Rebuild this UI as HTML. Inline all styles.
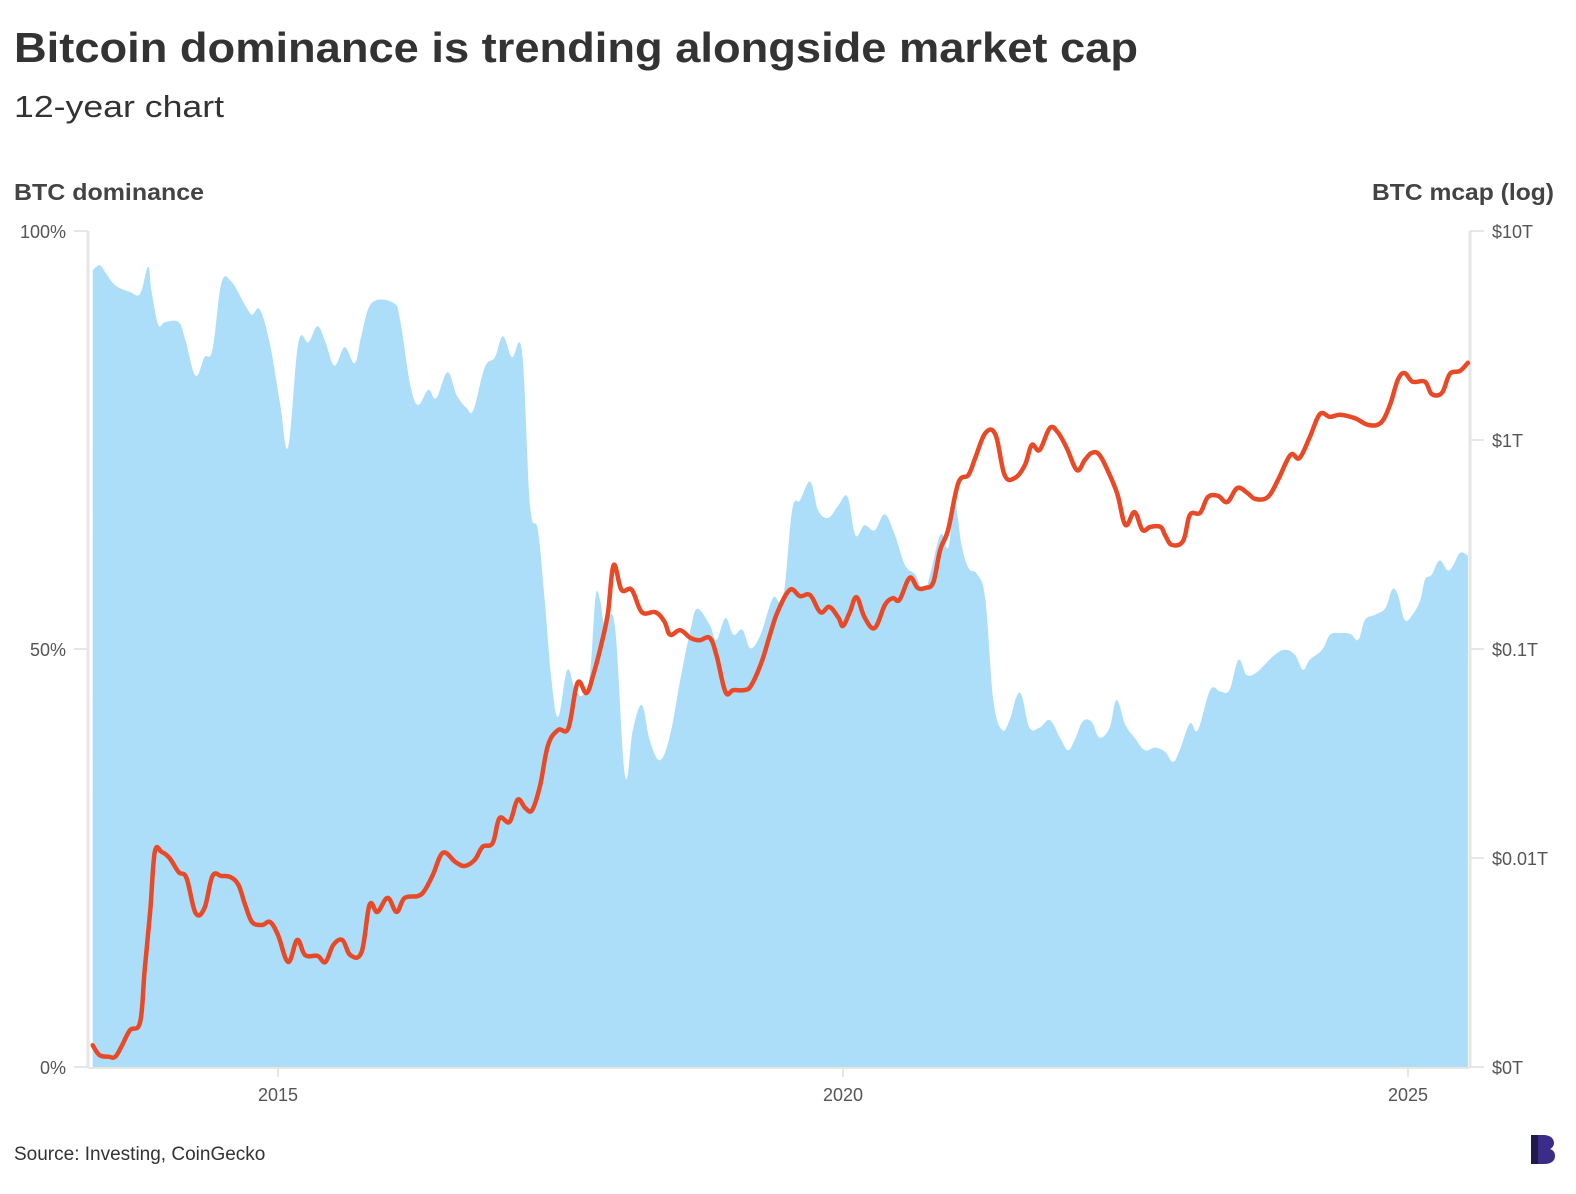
<!DOCTYPE html>
<html><head><meta charset="utf-8">
<style>
html,body{margin:0;padding:0;background:#fff;}
svg{display:block;font-family:"Liberation Sans",sans-serif;}
</style></head>
<body>
<svg id="chart" width="1576" height="1194" viewBox="0 0 1576 1194" xmlns="http://www.w3.org/2000/svg">
<text x="14" y="62" font-size="42" font-weight="bold" fill="#333" textLength="1124" lengthAdjust="spacingAndGlyphs">Bitcoin dominance is trending alongside market cap</text>
<text x="14" y="117" font-size="31" fill="#333" textLength="210" lengthAdjust="spacingAndGlyphs">12-year chart</text>
<text x="14" y="200" font-size="23" font-weight="bold" fill="#444" textLength="190" lengthAdjust="spacingAndGlyphs">BTC dominance</text>
<text x="1554" y="200" font-size="23" font-weight="bold" fill="#444" text-anchor="end" textLength="182" lengthAdjust="spacingAndGlyphs">BTC mcap (log)</text>
<g id="plot"></g>
<text x="14" y="1160" font-size="19" fill="#333">Source: Investing, CoinGecko</text>
<g>
<path d="M1531 1135 h12 c9 0 11 5 11 8 c0 3 -2 5 -4 6 c3 1 5 3 5 7 c0 5 -4 8 -11 8 h-13 z" fill="#3b2c8a"/>
<path d="M1531 1135 h7 v29 h-7 z" fill="#1e1a4a"/>
</g>
</svg>
<script>
const domDates=[2013.36,2013.42,2013.47,2013.56,2013.69,2013.78,2013.85,2013.88,2013.94,2014.00,2014.12,2014.18,2014.27,2014.35,2014.42,2014.50,2014.59,2014.71,2014.77,2014.84,2014.93,2015.02,2015.09,2015.18,2015.27,2015.35,2015.42,2015.50,2015.59,2015.68,2015.74,2015.83,2016.02,2016.08,2016.17,2016.24,2016.33,2016.40,2016.50,2016.58,2016.67,2016.73,2016.83,2016.92,2016.99,2017.07,2017.16,2017.23,2017.30,2017.36,2017.42,2017.48,2017.56,2017.63,2017.70,2017.76,2017.81,2017.85,2017.89,2017.98,2018.07,2018.14,2018.22,2018.29,2018.38,2018.47,2018.56,2018.65,2018.71,2018.82,2018.88,2018.96,2019.03,2019.11,2019.18,2019.27,2019.38,2019.47,2019.55,2019.62,2019.71,2019.78,2019.87,2019.96,2020.04,2020.11,2020.19,2020.28,2020.37,2020.46,2020.55,2020.64,2020.73,2020.86,2020.93,2020.99,2021.05,2021.11,2021.19,2021.26,2021.33,2021.41,2021.48,2021.53,2021.58,2021.65,2021.74,2021.83,2021.92,2021.99,2022.05,2022.12,2022.20,2022.27,2022.36,2022.42,2022.50,2022.58,2022.67,2022.76,2022.85,2022.92,2022.98,2023.07,2023.14,2023.25,2023.34,2023.42,2023.50,2023.57,2023.65,2023.73,2023.82,2023.91,2024.00,2024.07,2024.13,2024.24,2024.31,2024.40,2024.49,2024.56,2024.62,2024.71,2024.80,2024.86,2024.91,2024.97,2025.04,2025.11,2025.15,2025.21,2025.28,2025.35,2025.40,2025.46,2025.53];
const domValues=[95.3,95.9,95.1,93.5,92.7,92.5,95.7,92.9,88.8,89.1,89.1,87.0,82.7,84.9,85.8,93.8,93.9,91.1,90.0,90.6,86.4,79.2,74.2,86.6,86.7,88.6,86.7,83.9,86.1,84.2,87.6,91.4,91.4,89.4,81.6,79.2,81.0,80.0,83.1,80.4,78.8,78.6,83.7,84.9,87.4,84.9,85.5,67.2,64.2,55.9,46.3,41.9,47.5,45.1,44.5,46.9,56.2,55.9,52.9,52.9,34.9,40.3,43.3,39.1,36.7,39.7,46.3,52.3,54.8,52.9,51.1,53.7,51.7,52.3,50.1,51.7,56.1,56.1,66.6,67.8,70.0,66.6,65.7,67.2,68.2,63.6,64.8,64.2,66.1,63.6,60.0,58.9,57.1,63.6,62.1,67.2,62.4,59.7,58.9,55.9,43.9,40.3,41.7,44.1,44.5,40.6,40.6,41.5,39.4,37.9,39.1,41.3,41.3,39.4,40.6,43.9,40.9,39.4,37.9,38.2,37.7,36.5,37.9,41.1,40.3,45.1,44.9,45.1,48.7,46.9,47.1,48.1,49.3,49.9,49.3,47.5,48.7,49.9,51.7,51.9,51.8,51.1,53.5,54.1,54.9,57.1,56.5,53.5,54.1,55.9,58.3,58.9,60.6,59.4,60.0,61.5,61.2];
const capDates=[2013.36,2013.42,2013.50,2013.56,2013.62,2013.69,2013.78,2013.82,2013.87,2013.91,2013.97,2014.04,2014.12,2014.19,2014.27,2014.35,2014.42,2014.50,2014.58,2014.65,2014.71,2014.77,2014.86,2014.93,2015.00,2015.09,2015.17,2015.24,2015.35,2015.42,2015.49,2015.57,2015.64,2015.74,2015.81,2015.88,2015.97,2016.05,2016.12,2016.24,2016.30,2016.37,2016.46,2016.57,2016.65,2016.74,2016.81,2016.90,2016.96,2017.05,2017.12,2017.19,2017.25,2017.32,2017.39,2017.48,2017.57,2017.65,2017.73,2017.79,2017.87,2017.92,2017.97,2018.04,2018.13,2018.22,2018.34,2018.42,2018.47,2018.56,2018.65,2018.73,2018.82,2018.88,2018.96,2019.03,2019.13,2019.19,2019.28,2019.35,2019.42,2019.53,2019.62,2019.71,2019.80,2019.88,2019.96,2020.00,2020.06,2020.12,2020.19,2020.28,2020.37,2020.44,2020.50,2020.59,2020.66,2020.73,2020.80,2020.86,2020.93,2021.02,2021.11,2021.17,2021.26,2021.35,2021.43,2021.52,2021.61,2021.67,2021.74,2021.83,2021.90,2021.98,2022.07,2022.14,2022.20,2022.27,2022.36,2022.43,2022.50,2022.58,2022.65,2022.72,2022.81,2022.85,2022.91,2023.01,2023.07,2023.16,2023.23,2023.32,2023.40,2023.49,2023.58,2023.65,2023.76,2023.85,2023.96,2024.04,2024.13,2024.22,2024.31,2024.40,2024.53,2024.65,2024.76,2024.84,2024.91,2024.97,2025.04,2025.15,2025.21,2025.30,2025.37,2025.46,2025.53];
const capValues=[0.00127,0.00114,0.00112,0.00112,0.00127,0.00150,0.00164,0.00291,0.00564,0.0107,0.0107,0.0100,0.00857,0.00802,0.00546,0.00577,0.00820,0.00820,0.00810,0.00743,0.00596,0.00494,0.00478,0.00494,0.00428,0.00318,0.00405,0.00343,0.00340,0.00318,0.00384,0.00405,0.00343,0.00355,0.00596,0.00552,0.00644,0.00552,0.00644,0.00658,0.00703,0.00829,0.0106,0.00957,0.00916,0.00978,0.0113,0.0118,0.0155,0.0149,0.0190,0.0173,0.0170,0.0223,0.0347,0.0410,0.0419,0.0688,0.0616,0.0751,0.110,0.149,0.252,0.192,0.192,0.150,0.150,0.135,0.117,0.123,0.113,0.110,0.113,0.0936,0.0623,0.0636,0.0636,0.0673,0.0867,0.115,0.150,0.192,0.179,0.181,0.150,0.159,0.141,0.129,0.150,0.177,0.142,0.126,0.162,0.175,0.172,0.219,0.196,0.196,0.209,0.298,0.371,0.623,0.680,0.820,1.08,1.06,0.680,0.658,0.759,0.946,0.896,1.14,1.09,0.916,0.718,0.802,0.867,0.848,0.680,0.546,0.392,0.452,0.371,0.384,0.384,0.351,0.315,0.329,0.438,0.448,0.534,0.540,0.505,0.589,0.557,0.522,0.534,0.644,0.848,0.820,1.03,1.33,1.29,1.32,1.27,1.18,1.21,1.47,1.94,2.09,1.90,1.90,1.66,1.68,2.07,2.14,2.34];
const leftTicks=[0,50,100];
const leftTickLabels=["0%","50%","100%"];
const rightTicks=[0.001,0.01,0.1,1,10];
const rightTickLabels=["$0T","$0.01T","$0.1T","$1T","$10T"];
const yearTicks=[2015,2020,2025];

const NS="http://www.w3.org/2000/svg";
const X0=278, PXY=113, YB=1067, YT=231;
function xScale(t){return X0+(t-2015)*PXY;}
function yLeft(v){return YB-(v/100)*(YB-YT);}
function yRight(v){return YB-(Math.log10(v)+3)/4*(YB-YT);}
function smooth(pts){
  let d="M"+pts[0][0].toFixed(1)+","+pts[0][1].toFixed(1);
  for(let i=0;i<pts.length-1;i++){
    const p0=pts[Math.max(0,i-1)],p1=pts[i],p2=pts[i+1],p3=pts[Math.min(pts.length-1,i+2)];
    const k=0.18;
    const c1x=p1[0]+(p2[0]-p0[0])*k,c1y=p1[1]+(p2[1]-p0[1])*k;
    const c2x=p2[0]-(p3[0]-p1[0])*k,c2y=p2[1]-(p3[1]-p1[1])*k;
    d+=" C"+c1x.toFixed(1)+","+c1y.toFixed(1)+" "+c2x.toFixed(1)+","+c2y.toFixed(1)+" "+p2[0].toFixed(1)+","+p2[1].toFixed(1);
  }
  return d;
}
function mk(tag,attrs){const e=document.createElementNS(NS,tag);for(const k in attrs)e.setAttribute(k,attrs[k]);return e;}
const g=document.getElementById("plot");

// dominance area
const dpts=domDates.map((t,i)=>[xScale(t),yLeft(domValues[i])]);
const area=mk("path",{d:smooth(dpts)+" L"+dpts[dpts.length-1][0]+","+YB+" L"+dpts[0][0]+","+YB+" Z",fill:"#acdefa"});


g.appendChild(area);

// axes
const la=mk("line",{x1:88,x2:88,y1:YT,y2:YB,stroke:"#e6e6e6","stroke-width":3});


g.appendChild(la);
const ra=mk("line",{x1:1470,x2:1470,y1:YT,y2:YB,stroke:"#e6e6e6","stroke-width":3});


g.appendChild(ra);
const xa=mk("line",{x1:88,x2:1470,y1:YB+1,y2:YB+1,stroke:"#e6e6e6","stroke-width":2});


g.appendChild(xa);

leftTicks.forEach((v,i)=>{
  const y=yLeft(v);
  const tk=mk("line",{x1:74,x2:88,y1:y,y2:y,stroke:"#e6e6e6","stroke-width":2});
  
  
  g.appendChild(tk);
  const tx=mk("text",{x:66,y:y+7,"font-size":18,fill:"#555","text-anchor":"end"});
  tx.textContent=leftTickLabels[i];
  
  
  g.appendChild(tx);
});
rightTicks.forEach((v,i)=>{
  const y=yRight(v);
  const tk=mk("line",{x1:1470,x2:1484,y1:y,y2:y,stroke:"#e6e6e6","stroke-width":2});
  
  
  g.appendChild(tk);
  const tx=mk("text",{x:1492,y:y+7,"font-size":18,fill:"#555"});
  tx.textContent=rightTickLabels[i];
  
  
  g.appendChild(tx);
});
yearTicks.forEach(t=>{
  const x=xScale(t);
  const tk=mk("line",{x1:x,x2:x,y1:YB,y2:YB+10,stroke:"#e6e6e6","stroke-width":2});
  
  
  g.appendChild(tk);
  const tx=mk("text",{x:x,y:YB+34,"font-size":18,fill:"#555","text-anchor":"middle"});
  tx.textContent=String(t);
  
  
  g.appendChild(tx);
});

// market cap line
const cpts=capDates.map((t,i)=>[xScale(t),yRight(capValues[i])]);
const line=mk("path",{d:smooth(cpts),fill:"none",stroke:"#e84a27","stroke-width":4.5,"stroke-linejoin":"round","stroke-linecap":"round"});


g.appendChild(line);
</script>
</body></html>
